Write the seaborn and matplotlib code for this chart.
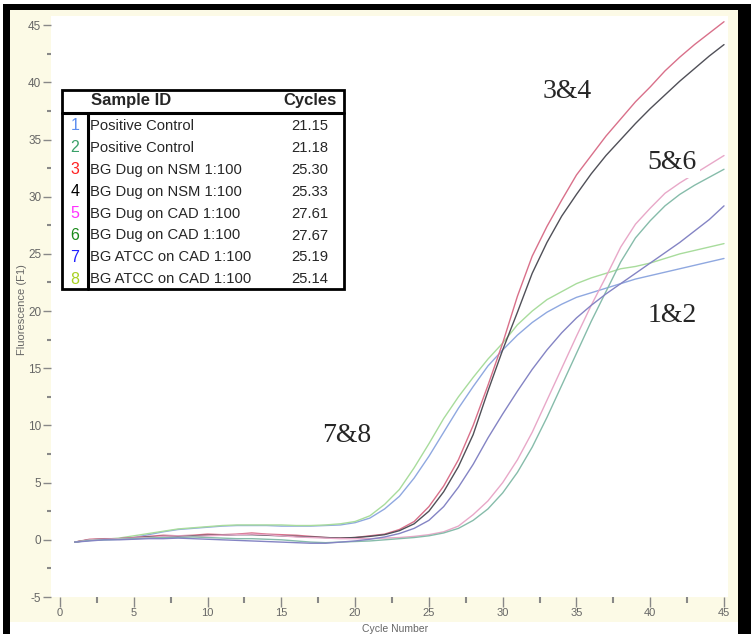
import matplotlib
matplotlib.use('Agg')
import matplotlib.pyplot as plt
from matplotlib.patches import Rectangle
from matplotlib.lines import Line2D
from matplotlib.ticker import MultipleLocator
import seaborn as sns
import pandas as pd

# amplification curves
cycles = list(range(1, 46))

s1 = [-0.2, -0.05, 0.0, 0.05, 0.2, 0.45, 0.7, 0.9, 1.0, 1.1, 1.2, 1.25, 1.25, 1.25, 1.2,
      1.2, 1.2, 1.25, 1.3, 1.5, 1.9, 2.7, 3.8, 5.4, 7.3, 9.4, 11.5, 13.4, 15.2, 16.6,
      17.9, 19.0, 19.9, 20.6, 21.2, 21.6, 22.0, 22.4, 22.8, 23.1, 23.4, 23.7, 24.0, 24.3, 24.6]
s2 = [-0.2, 0.0, 0.05, 0.15, 0.35, 0.55, 0.75, 0.95, 1.05, 1.15, 1.25, 1.3, 1.3, 1.3, 1.3,
      1.25, 1.25, 1.3, 1.4, 1.6, 2.1, 3.1, 4.4, 6.3, 8.4, 10.6, 12.5, 14.2, 15.8, 17.2,
      18.8, 20.0, 21.0, 21.7, 22.4, 22.9, 23.3, 23.7, 23.9, 24.2, 24.6, 25.0, 25.3, 25.6, 25.9]
s3 = [-0.2, 0.05, 0.1, 0.1, 0.2, 0.3, 0.4, 0.35, 0.4, 0.5, 0.45, 0.5, 0.6, 0.5, 0.45,
      0.4, 0.3, 0.2, 0.15, 0.2, 0.35, 0.5, 0.9, 1.6, 2.9, 4.7, 7.0, 10.0, 13.5, 17.2,
      21.3, 24.8, 27.4, 29.7, 31.9, 33.6, 35.3, 36.8, 38.3, 39.6, 41.0, 42.2, 43.3, 44.3, 45.3]
s4 = [-0.2, 0.0, 0.05, 0.1, 0.15, 0.25, 0.3, 0.3, 0.35, 0.4, 0.4, 0.45, 0.45, 0.4, 0.35,
      0.3, 0.25, 0.2, 0.15, 0.2, 0.3, 0.45, 0.8, 1.4, 2.5, 4.2, 6.4, 9.2, 13.0, 16.6,
      19.9, 23.3, 26.0, 28.3, 30.2, 32.0, 33.6, 35.0, 36.4, 37.7, 38.9, 40.1, 41.2, 42.3, 43.3]
s5 = [-0.2, 0.0, 0.05, 0.1, 0.15, 0.2, 0.3, 0.35, 0.3, 0.35, 0.4, 0.45, 0.5, 0.45, 0.35,
      0.25, 0.2, 0.15, 0.1, 0.1, 0.1, 0.15, 0.2, 0.3, 0.45, 0.7, 1.2, 2.2, 3.4, 5.0,
      7.0, 9.4, 12.2, 15.0, 17.8, 20.5, 23.0, 25.6, 27.6, 29.0, 30.3, 31.2, 32.0, 32.8, 33.6]
s6 = [-0.2, -0.05, 0.0, 0.05, 0.1, 0.15, 0.2, 0.2, 0.25, 0.2, 0.15, 0.1, 0.1, 0.05, 0.0,
      -0.1, -0.2, -0.25, -0.2, -0.15, -0.1, 0.0, 0.1, 0.2, 0.35, 0.6, 1.0, 1.7, 2.7, 4.1,
      5.9, 8.1, 10.7, 13.5, 16.3, 19.1, 21.7, 24.3, 26.4, 27.9, 29.2, 30.2, 31.0, 31.7, 32.4]
s7 = [-0.2, -0.1, 0.0, 0.0, 0.05, 0.1, 0.1, 0.15, 0.1, 0.05, 0.0, -0.05, -0.1, -0.15, -0.2,
      -0.25, -0.3, -0.3, -0.2, -0.1, 0.05, 0.25, 0.55, 1.0, 1.7, 2.9, 4.6, 6.6, 8.9, 11.0,
      13.0, 14.9, 16.6, 18.1, 19.4, 20.5, 21.5, 22.4, 23.3, 24.2, 25.1, 26.0, 27.0, 28.0, 29.2]

curve_ids = ['1', '2', '3', '4', '5', '6', '7']
curve_colors = ['#8fa8e0', '#a8dc9c', '#d9708a', '#505058', '#e8a8c8', '#86bcaa', '#8484c4']

sample_nums = ['1', '2', '3', '4', '5', '6', '7', '8']
sample_names = ['Positive Control', 'Positive Control', 'BG Dug on NSM 1:100', 'BG Dug on NSM 1:100',
                'BG Dug on CAD 1:100', 'BG Dug on CAD 1:100', 'BG ATCC on CAD 1:100', 'BG ATCC on CAD 1:100']
sample_cycles = ['21.15', '21.18', '25.30', '25.33', '27.61', '27.67', '25.19', '25.14']
num_colors = ['#5b8def', '#3aa068', '#ff2020', '#000000', '#ff30ff', '#1a8a1a', '#2020ff', '#a8d020']

groups = ['3&4', '5&6', '1&2', '7&8']
group_pos = [(34.4, 39.2), (41.5, 33.0), (41.5, 19.6), (19.45, 9.1)]

W, H = 751, 634


def fx(px):
    return px / W


def fy(py):
    return 1 - py / H


rows = []
for cid, vals in zip(curve_ids, [s1, s2, s3, s4, s5, s6, s7]):
    for c, v in zip(cycles, vals):
        rows.append({'sample': cid, 'cycle': c, 'fluor': v})
df = pd.DataFrame(rows)

sns.set_style('white')
plt.rcParams['font.family'] = ['Liberation Sans', 'DejaVu Sans']
plt.rcParams['axes.unicode_minus'] = False

fig = plt.figure(figsize=(W / 100, H / 100), dpi=100)
fig.patch.set_facecolor('white')

# pale window background and black scan border
fig.patches.append(Rectangle((fx(10), fy(622)), fx(738) - fx(10), fy(10) - fy(622),
                             transform=fig.transFigure, facecolor='#fcfae6', edgecolor='none', zorder=-2))
for x0, y0, x1, y1 in [(3, 5, 10, 634), (3, 4, 751, 10), (738, 5, 751, 634)]:
    fig.patches.append(Rectangle((fx(x0), fy(y1)), fx(x1) - fx(x0), fy(y0) - fy(y1),
                                 transform=fig.transFigure, facecolor='black', edgecolor='none', zorder=6))

ax = fig.add_axes([fx(51), fy(597), fx(728) - fx(51), fy(16) - fy(597)])
ax.set_facecolor('white')
sns.lineplot(data=df, x='cycle', y='fluor', hue='sample', palette=dict(zip(curve_ids, curve_colors)),
             linewidth=1.0, legend=False, ax=ax)

ax.set_xlim(-0.61, 45.27)
ax.set_ylim(-5, 45.8)
ax.xaxis.set_major_locator(MultipleLocator(5))
ax.xaxis.set_minor_locator(MultipleLocator(2.5))
ax.yaxis.set_major_locator(MultipleLocator(5))
ax.yaxis.set_minor_locator(MultipleLocator(2.5))
ax.tick_params(axis='y', which='major', direction='out', length=6, width=1, color='#888',
               pad=1, labelsize=8.5, labelcolor='#666', left=True)
ax.tick_params(axis='y', which='minor', direction='out', length=3, width=1.5, color='#888', left=True)
ax.tick_params(axis='x', which='major', direction='out', length=7, width=1, color='#888',
               pad=1, labelsize=8, labelcolor='#666', bottom=True)
ax.tick_params(axis='x', which='minor', direction='out', length=4, width=1.5, color='#888', bottom=True)
for s in ax.spines.values():
    s.set_visible(False)
ax.set_xlabel('')
ax.set_ylabel('')

fig.text(fx(22), fy(310), 'Fluorescence (F1)', rotation=90, ha='center', va='center', fontsize=8, color='#666')
fig.text(fx(395), fy(628.5), 'Cycle Number', ha='center', va='center', fontsize=7.5, color='#666')

# group labels
for g, (gx, gy) in zip(groups, group_pos):
    ax.text(gx, gy, g, ha='center', va='center', fontsize=20, family='Liberation Serif',
            bbox=dict(facecolor='white', edgecolor='none', pad=2), zorder=5)

# sample table
fig.patches.append(Rectangle((fx(62), fy(289)), fx(344) - fx(62), fy(90) - fy(289),
                             transform=fig.transFigure, facecolor='white', edgecolor='black',
                             linewidth=2, zorder=3))
fig.lines.append(Line2D([fx(62), fx(344)], [fy(113), fy(113)], transform=fig.transFigure,
                        color='black', linewidth=2.2, zorder=4))
fig.lines.append(Line2D([fx(88), fx(88)], [fy(113), fy(289)], transform=fig.transFigure,
                        color='black', linewidth=2.2, zorder=4))
fig.text(fx(91), fy(101), 'Sample ID', ha='left', va='center', fontsize=12, fontweight='bold', zorder=5)
fig.text(fx(310), fy(101), 'Cycles', ha='center', va='center', fontsize=12, fontweight='bold', zorder=5)
for i, (n, name, cyc, col) in enumerate(zip(sample_nums, sample_names, sample_cycles, num_colors)):
    yy = 126 + i * 21.9
    fig.text(fx(75), fy(yy), n, ha='center', va='center', fontsize=11.5, color=col, zorder=5)
    fig.text(fx(90), fy(yy), name, ha='left', va='center', fontsize=10.6, zorder=5)
    fig.text(fx(310), fy(yy), cyc, ha='center', va='center', fontsize=10.6, zorder=5)

fig.savefig('out.png', dpi=100, facecolor=fig.get_facecolor())
plt.close(fig)
